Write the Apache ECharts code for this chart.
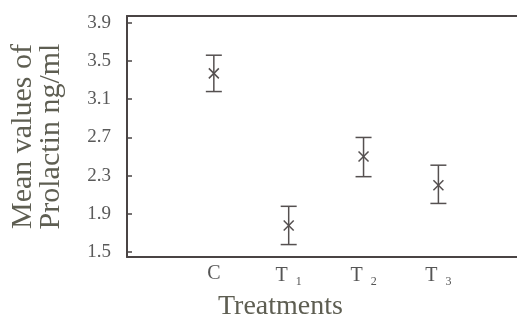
<!DOCTYPE html>
<html>
<head>
<meta charset="utf-8">
<script src="https://cdn.jsdelivr.net/npm/echarts@6/dist/echarts.min.js"></script>
<style>
  html, body { margin: 0; padding: 0; background: #fff; }
  #chart { width: 517px; height: 327px; }
</style>
</head>
<body>
<div id="chart"></div>
<script>
const categories = ['C', 'T1', 'T2', 'T3'];
const catPos = [1, 2, 3, 4];
const means = [3.37, 1.78, 2.50, 2.20];
const lower = [3.18, 1.58, 2.29, 2.01];
const upper = [3.56, 1.98, 2.70, 2.41];
const yTicks = [1.5, 1.9, 2.3, 2.7, 3.1, 3.5, 3.9];

const axisColor = '#4a4444';
const markColor = '#555050';
const font = '"Liberation Serif", "DejaVu Serif", serif';

const chart = echarts.init(document.getElementById('chart'), null, { renderer: 'canvas' });

const rows = catPos.map((x, i) => [x, means[i], lower[i], upper[i]]);

const option = {
    animation: false,
    backgroundColor: '#fff',
    title: {
        text: 'Treatments',
        left: 213,
        top: 288,
        textStyle: { fontFamily: font, fontSize: 28, fontWeight: 'normal', color: '#5e5e52' }
    },
    grid: { left: 126, right: 0, top: 16, bottom: 70 },
    xAxis: [
        {
            type: 'value',
            min: -0.16,
            max: 5.05,
            splitLine: { show: false },
            axisLine: { show: true, onZero: false, lineStyle: { color: axisColor, width: 2 } },
            axisTick: { show: false },
            axisLabel: {
                customValues: catPos,
                margin: 7,
                fontFamily: font,
                fontSize: 20,
                color: '#555',
                formatter: (v) => {
                    const c = categories[catPos.indexOf(v)] || '';
                    return c.length > 1 ? c[0] + '{sub|' + c.slice(1) + '}' : c;
                },
                rich: {
                    sub: { fontFamily: font, fontSize: 12, color: '#555', padding: [12, 0, 0, 8] }
                }
            }
        },
        {
            type: 'value',
            position: 'top',
            min: -0.16,
            max: 5.05,
            splitLine: { show: false },
            axisLine: { show: true, onZero: false, lineStyle: { color: axisColor, width: 2 } },
            axisTick: { show: false },
            axisLabel: { show: false }
        }
    ],
    yAxis: {
        type: 'value',
        min: 1.45,
        max: 3.97,
        name: 'Mean values of\nProlactin ng/ml',
        nameLocation: 'middle',
        nameGap: 62,
        nameTextStyle: { fontFamily: font, fontSize: 30, lineHeight: 28, color: '#5e5e52' },
        splitLine: { show: false },
        axisLine: { show: true, onZero: false, lineStyle: { color: axisColor, width: 2 } },
        axisTick: {
            show: true,
            inside: true,
            length: 5,
            customValues: yTicks,
            lineStyle: { color: axisColor, width: 1.5 }
        },
        axisLabel: {
            customValues: yTicks,
            margin: 16,
            fontFamily: font,
            fontSize: 19,
            color: '#5a5a5a',
            formatter: (v) => v.toFixed(1)
        }
    },
    series: [
        {
            type: 'custom',
            xAxisIndex: 0,
            data: rows,
            renderItem: (params, api) => {
                const x = api.value(0);
                const pm = api.coord([x, api.value(1)]);
                const pl = api.coord([x, api.value(2)]);
                const pu = api.coord([x, api.value(3)]);
                const cap = 8;
                const sx = 5, sy = 5;
                const style = { stroke: markColor, lineWidth: 1.5 };
                return {
                    type: 'group',
                    children: [
                        { type: 'line', shape: { x1: pu[0], y1: pu[1], x2: pl[0], y2: pl[1] }, style },
                        { type: 'line', shape: { x1: pu[0] - cap, y1: pu[1], x2: pu[0] + cap, y2: pu[1] }, style },
                        { type: 'line', shape: { x1: pl[0] - cap, y1: pl[1], x2: pl[0] + cap, y2: pl[1] }, style },
                        { type: 'line', shape: { x1: pm[0] - sx, y1: pm[1] - sy, x2: pm[0] + sx, y2: pm[1] + sy }, style },
                        { type: 'line', shape: { x1: pm[0] - sx, y1: pm[1] + sy, x2: pm[0] + sx, y2: pm[1] - sy }, style }
                    ]
                };
            }
        }
    ]
};

chart.setOption(option);
</script>
</body>
</html>
